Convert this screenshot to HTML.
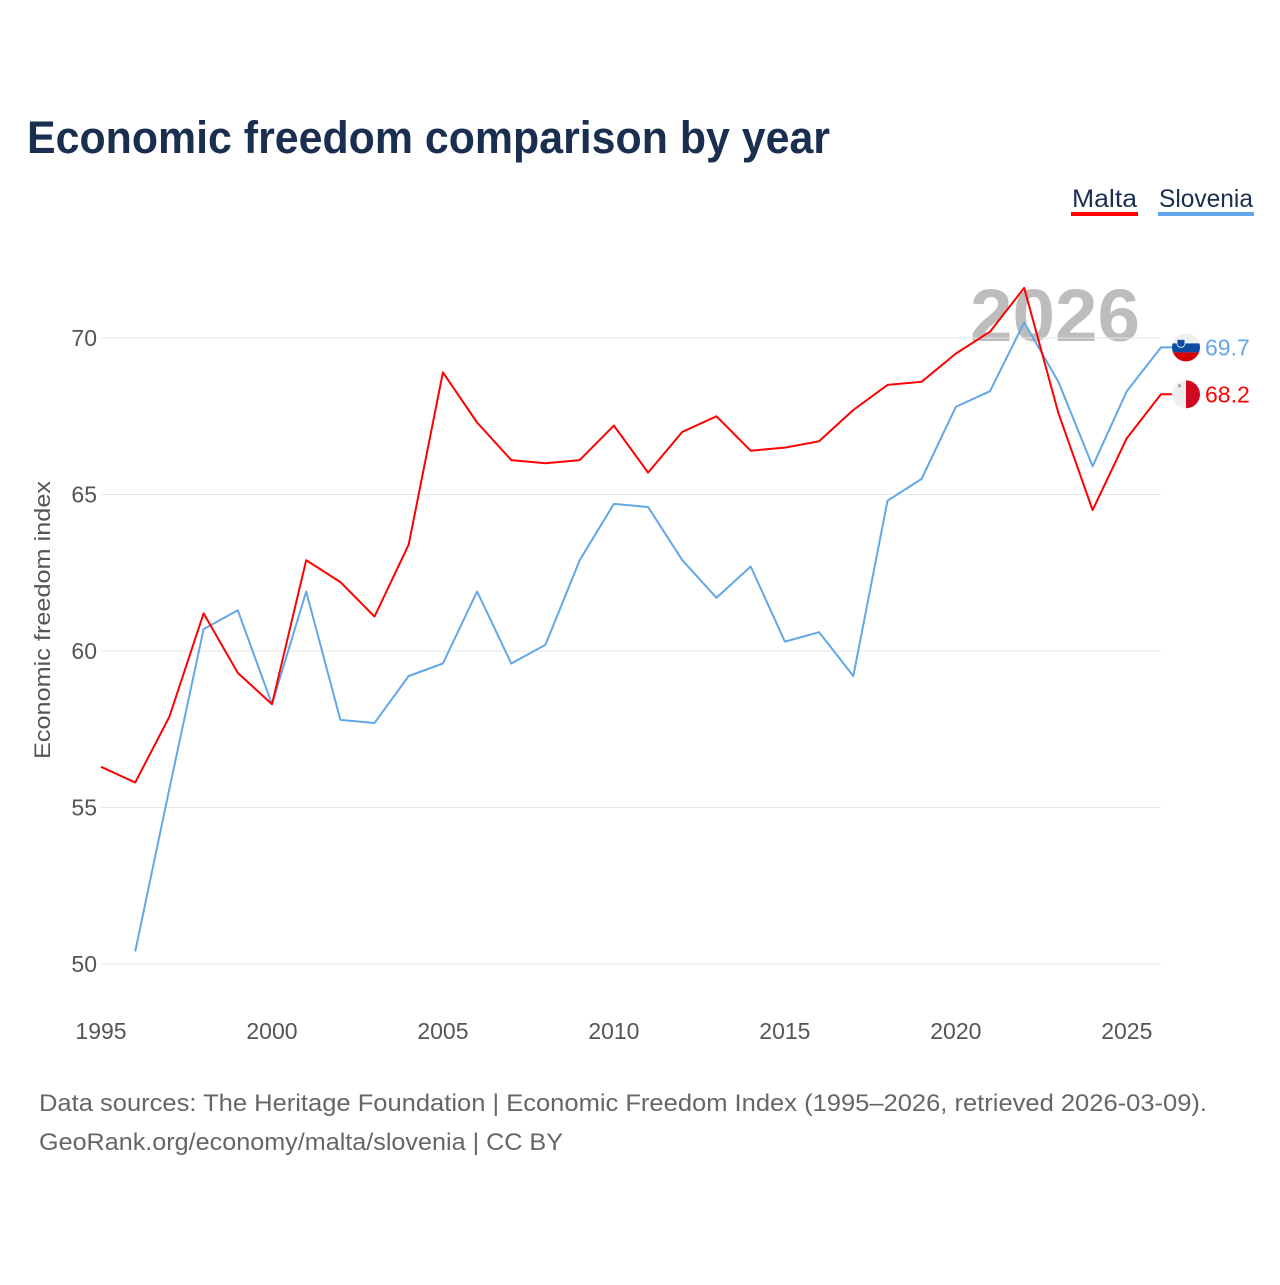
<!DOCTYPE html>
<html><head><meta charset="utf-8">
<style>
html,body{margin:0;padding:0;background:#fff;}
body{width:1280px;height:1280px;overflow:hidden;font-family:"Liberation Sans",sans-serif;}
</style></head>
<body>
<svg id="chart" width="1280" height="1280" xmlns="http://www.w3.org/2000/svg" font-family="Liberation Sans, sans-serif">
<text x="27" y="153" font-size="45" font-weight="bold" fill="#1a2e4f" textLength="803" lengthAdjust="spacingAndGlyphs">Economic freedom comparison by year</text>
<g>
<text x="1072" y="207" font-size="25" fill="#1a2e4f" textLength="65" lengthAdjust="spacingAndGlyphs">Malta</text>
<rect x="1071" y="212" width="67" height="4" fill="#ff0000"/>
<text x="1159" y="207" font-size="25" fill="#1a2e4f" textLength="94" lengthAdjust="spacingAndGlyphs">Slovenia</text>
<rect x="1158" y="212" width="96" height="4" fill="#62a8e8"/>
</g>
<text x="970" y="341" font-size="74" font-weight="bold" fill="#bdbdbd" textLength="170" lengthAdjust="spacingAndGlyphs">2026</text>
<g id="grid"></g>
<g id="xticks"></g>
<text transform="translate(50,620) rotate(-90)" font-size="22" fill="#555" text-anchor="middle" textLength="278" lengthAdjust="spacingAndGlyphs">Economic freedom index</text>
<g id="lines"></g>
<g id="ends"></g>
<text x="39" y="1111" font-size="24" fill="#666" textLength="1168" lengthAdjust="spacingAndGlyphs">Data sources: The Heritage Foundation | Economic Freedom Index (1995–2026, retrieved 2026-03-09).</text>
<text x="39" y="1150" font-size="24" fill="#666" textLength="524" lengthAdjust="spacingAndGlyphs">GeoRank.org/economy/malta/slovenia | CC BY</text>
</svg>
<script>
const years=[1995,1996,1997,1998,1999,2000,2001,2002,2003,2004,2005,2006,2007,2008,2009,2010,2011,2012,2013,2014,2015,2016,2017,2018,2019,2020,2021,2022,2023,2024,2025,2026];
const maltaValues=[56.3,55.8,57.9,61.2,59.3,58.3,62.9,62.2,61.1,63.4,68.9,67.3,66.1,66.0,66.1,67.2,65.7,67.0,67.5,66.4,66.5,66.7,67.7,68.5,68.6,69.5,70.2,71.6,67.6,64.5,66.8,68.2];
const sloveniaValues=[null,50.4,55.6,60.7,61.3,58.3,61.9,57.8,57.7,59.2,59.6,61.9,59.6,60.2,62.9,64.7,64.6,62.9,61.7,62.7,60.3,60.6,59.2,64.8,65.5,67.8,68.3,70.5,68.6,65.9,68.3,69.7];
const yTicks=[50,55,60,65,70];
const xTicks=[1995,2000,2005,2010,2015,2020,2025];
const NS='http://www.w3.org/2000/svg';
const x=v=>101+(v-1995)*(1060/31);
const y=v=>338+(70-v)*31.3;
function mk(tag,attrs,parent){const e=document.createElementNS(NS,tag);for(const k in attrs)e.setAttribute(k,attrs[k]);parent.appendChild(e);return e;}
const grid=document.getElementById('grid');
yTicks.forEach(t=>{
 const l=mk('line',{x1:101,x2:1161,y1:y(t),y2:y(t),stroke:'#e6e6e6','stroke-width':1},grid);
 
 
 const tx=mk('text',{x:97,y:y(t)+8,'font-size':23,fill:'#555','text-anchor':'end'},grid);
 tx.textContent=t;
 
 
});
const xt=document.getElementById('xticks');
xTicks.forEach(t=>{
 const tx=mk('text',{x:x(t),y:1039,'font-size':23,fill:'#555','text-anchor':'middle'},xt);
 tx.textContent=t;
 
 
});
function line(vals,color,name){
 let d='';let last=null;vals.forEach((v,i)=>{if(v==null)return;d+=(d?'L':'M')+x(years[i]).toFixed(1)+','+y(v).toFixed(1);last=v;});
 d+='L1172,'+y(last).toFixed(1);
 const p=mk('path',{d:d,fill:'none',stroke:color,'stroke-width':2,'stroke-linejoin':'round'},document.getElementById('lines'));
 
 
}
line(sloveniaValues,'#62a8e8','slovenia-line');
line(maltaValues,'#ff0000','malta-line');
const ends=document.getElementById('ends');
function endLabel(vals,color,name,flag){
 const v=vals[vals.length-1],cy=y(v);
 const g=mk('g',{},ends);
 
 
 if(flag==='si'){
  mk('clipPath',{id:'cs'},g);
  const cp=g.lastChild;mk('circle',{cx:1186,cy:cy,r:14},cp);
  const f=mk('g',{'clip-path':'url(#cs)'},g);
  mk('rect',{x:1172,y:cy-14,width:28,height:10,fill:'#eee'},f);
  mk('rect',{x:1172,y:cy-4,width:28,height:9,fill:'#0c4da2'},f);
  mk('rect',{x:1172,y:cy+5,width:28,height:10,fill:'#d50000'},f);
  mk('path',{d:`M1177,${cy-8} h8 v4 a4,4 0 0 1 -8,0 z`,fill:'#0c4da2',stroke:'#fff','stroke-width':0.8},f);
 } else {
  mk('clipPath',{id:'cm'},g);
  const cp=g.lastChild;mk('circle',{cx:1186,cy:cy,r:14},cp);
  const f=mk('g',{'clip-path':'url(#cm)'},g);
  mk('rect',{x:1172,y:cy-14,width:14,height:28,fill:'#eeeeee'},f);
  mk('rect',{x:1186,y:cy-14,width:14,height:28,fill:'#cf0921'},f);
  mk('rect',{x:1178,y:cy-10,width:3,height:3,fill:'#aaa'},f);
 }
 const t=mk('text',{x:1205,y:cy+8,'font-size':23,fill:color},g);
 t.textContent=v.toFixed(1);
}
endLabel(sloveniaValues,'#62a8e8','slovenia','si');
endLabel(maltaValues,'#ff0000','malta','mt');
</script>
</body></html>
